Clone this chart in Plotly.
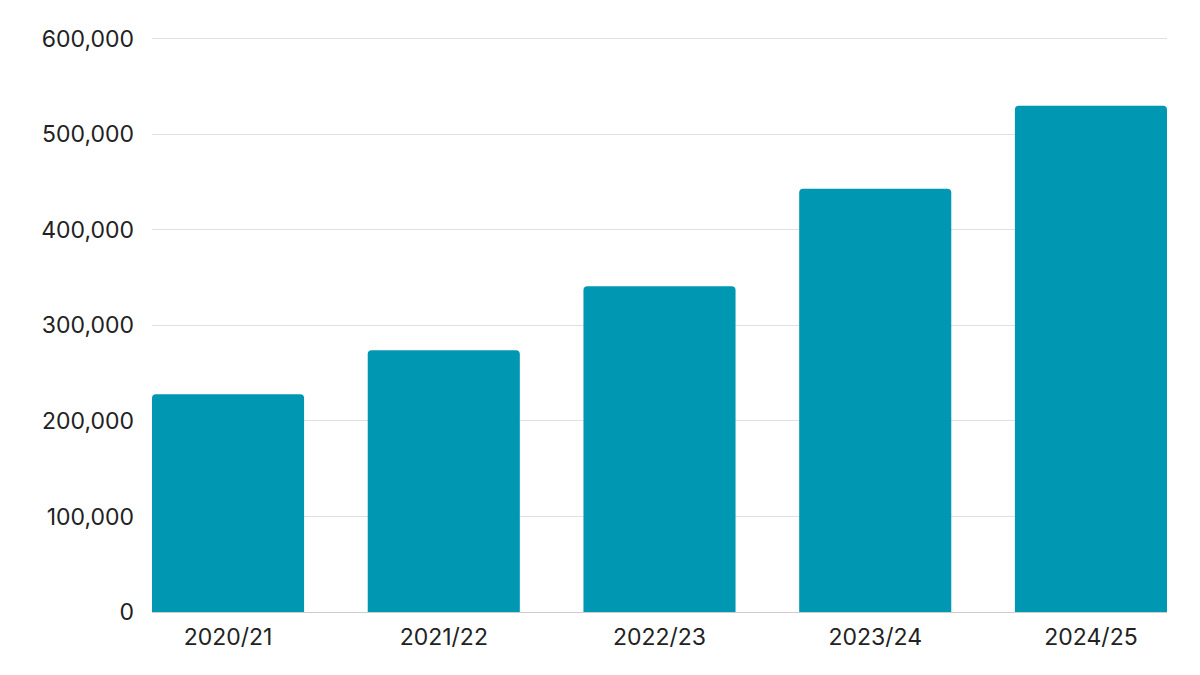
import plotly.graph_objects as go

categories = ["2020/21", "2021/22", "2022/23", "2023/24", "2024/25"]
values = [228000, 274000, 341000, 443000, 530000]
y_ticks = [0, 100000, 200000, 300000, 400000, 500000, 600000]
y_tick_labels = ["0", "100,000", "200,000", "300,000", "400,000", "500,000", "600,000"]

bar_w = 0.705

fig = go.Figure(go.Bar(
    x=categories, y=values,
    marker=dict(color="#0097B2", line=dict(width=0)),
    width=bar_w,
))

fig.update_layout(
    width=1200, height=675,
    margin=dict(l=144, r=41, t=28, b=71),
    paper_bgcolor="white", plot_bgcolor="white",
    font=dict(family="Inter, Lato, sans-serif", size=23, color="#222222"),
    barcornerradius=4,
    showlegend=False,
    xaxis=dict(
        range=[-bar_w / 2, len(categories) - 1 + bar_w / 2],
        showgrid=False, showline=True, linecolor="#cccccc", linewidth=1,
        ticks="", ticklabelstandoff=4, tickfont=dict(size=23),
    ),
    yaxis=dict(
        range=[0, 603000], tickvals=y_ticks, ticktext=y_tick_labels,
        showgrid=True, gridcolor="#e0e0e0", gridwidth=1,
        zeroline=False, showline=False, ticks="",
        ticklabelstandoff=17, tickfont=dict(size=23),
    ),
)

fig.write_html("out.html")
